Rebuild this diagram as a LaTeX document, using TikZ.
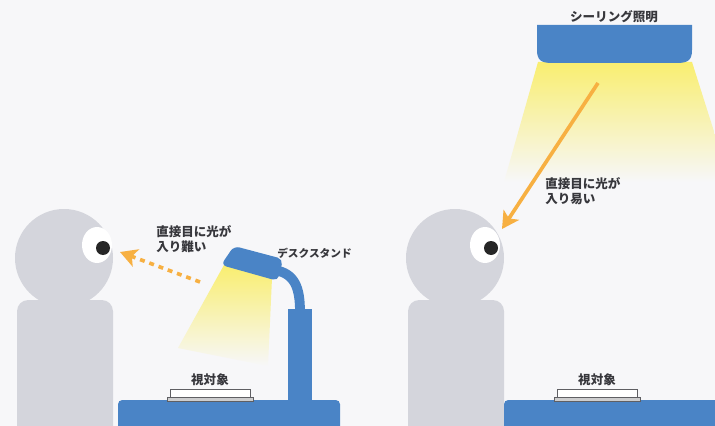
\documentclass[tikz,border=0pt]{standalone}
\usepackage{fontspec}
\setmainfont{Noto Sans CJK JP}
\usepackage{xcolor}
\usepackage{tikz}
\usetikzlibrary{arrows.meta,positioning}
\definecolor{bg}{RGB}{247,247,249}
\definecolor{deskblue}{RGB}{74,132,198}
\definecolor{skin}{RGB}{212,213,220}
\definecolor{glow}{RGB}{249,238,112}
\definecolor{warn}{RGB}{247,176,66}
\definecolor{ink}{RGB}{55,55,60}

\begin{document}
\begin{tikzpicture}[x=0.025cm, y=-0.025cm,
              blue/.style={fill=deskblue, draw=none},
              person/.style={fill=skin, draw=none},
              lbl/.style={text=ink, font=\fontsize{8.9}{10.6}\selectfont\bfseries, inner sep=0pt, align=left},
              ray/.style={warn, line width=2.6pt, -{Stealth[length=12pt, width=13pt, inset=3pt]}},
              plate/.style={draw=ink!80, line width=0.6pt, fill=white, minimum width=2cm, minimum height=0.2cm, inner sep=0pt},
              base/.style={draw=ink!80, line width=0.6pt, fill=ink!25, minimum width=2.15cm, minimum height=0.1cm, inner sep=0pt},
             ]
\useasboundingbox (0,0) rectangle (715,426);
\fill[bg] (0,0) rectangle (715,426);

% light from the ceiling fixture
\shade[top color=glow, middle color=glow!90!bg, bottom color=bg] (538,62) -- (692,62) -- (730,182) -- (504,182) -- cycle;

% the two people
\foreach \hx/\px in {64/103, 455/491}{
  \fill[person] (\hx-47,426) [rounded corners=8] -- (\hx-47,300) -- (\hx+49,300) [sharp corners] -- (\hx+49,426) -- cycle;
  \fill[person] (\hx,258) circle (49);
  \fill[white] (\px-6,245) ellipse (15 and 18);
  \fill[black!85] (\px,248) circle (7);
}

% desks and what lies on them
\fill[blue, rounded corners=3] (118,400) rectangle (340,432);
\fill[blue, rounded corners=3] (504,400) rectangle (722,432);
\node[base] (baseL) at (210,399) {};
\node[plate] (plateL) at (210,393) {};
\node[base] (baseR) at (597,399) {};
\node[plate] (plateR) at (597,393) {};
\node[lbl, above=2pt of plateL] (targetL) {視対象};
\node[lbl, above=2pt of plateR] (targetR) {視対象};

% desk lamp
\shade[top color=glow, middle color=glow!85!bg, bottom color=bg] (224,265) -- (272,278) -- (268,366) -- (178,348) -- cycle;
\fill[blue] (288,309) rectangle (312,402);
\draw[deskblue, line width=7pt] (274,270) .. controls (295,273) and (300,288) .. (300,312);
\fill[blue, rounded corners=4] (234,246) -- (283,259) -- (278,281) -- (221,265) -- cycle;
\node[lbl, font=\fontsize{7.6}{9}\selectfont\bfseries, anchor=west] (lamp) at (277,253) {デスクスタンド};

% ceiling fixture
\fill[blue] (537,25) -- (537,50) .. controls (537,60) and (541,63) .. (552,63) -- (677,63) .. controls (688,63) and (692,60) .. (692,50) -- (692,25) -- cycle;
\node[lbl, anchor=south] (ceiling) at (614,23) {シーリング照明};

% glare towards the eye
\coordinate (lampray) at (200,282);
\coordinate (eyeL) at (120,252);
\coordinate (ceilray) at (598,83);
\coordinate (eyeR) at (502,229);
\draw[ray, dash pattern=on 3.5pt off 3.5pt] (lampray) -- (eyeL);
\draw[ray] (ceilray) -- (eyeR);
\node[lbl, anchor=north west] (hardL) at (156,225) {直接目に光が\\入り難い};
\node[lbl, anchor=north west] (easyR) at (545,177) {直接目に光が\\入り易い};
\end{tikzpicture}
\end{document}
